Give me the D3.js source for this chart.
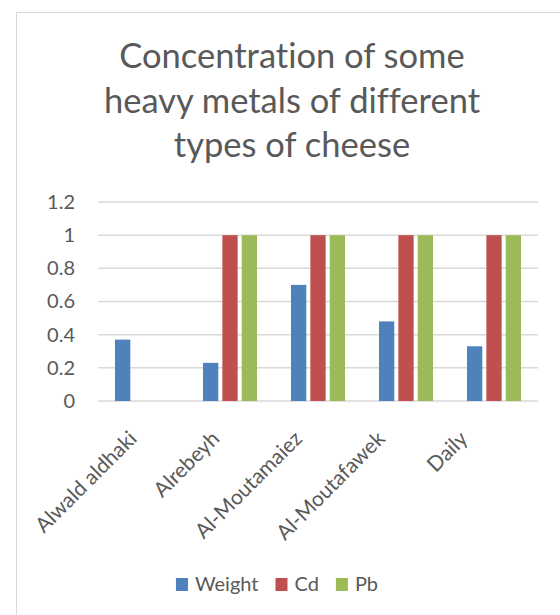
<!DOCTYPE html>
<meta charset="utf-8">
<style>
body { margin: 0; background: #fff; }
svg text { font-family: Lato, "Open Sans", sans-serif; fill: #595959; font-variant-ligatures: none; }
.grid line { stroke: #d9d9d9; stroke-width: 1.5px; }
.axis--y path, .axis--y line { display: none; }
</style>
<svg width="560" height="615"></svg>
<script src="https://d3js.org/d3.v7.min.js"></script>
<script>

// Data
var categories = ["Alwald aldhaki", "Alrebeyh", "Al-Moutamaiez", "Al-Moutafawek", "Daily"];
var series = ["Weight", "Cd", "Pb"];
var weight = [0.37, 0.23, 0.70, 0.48, 0.33];
var cd = [0, 1, 1, 1, 1];
var pb = [0, 1, 1, 1, 1];
var yTicks = [0, 0.2, 0.4, 0.6, 0.8, 1, 1.2];
var titleLines = ["Concentration of some", "heavy metals of different", "types of cheese"];
var colors = ["#4f81bd", "#c0504d", "#9bbb59"];

var values = [weight, cd, pb];

var svg = d3.select("svg");

// chart area border (runs off the right and bottom of the picture)
svg.append("rect")
    .attr("x", 16.5).attr("y", 12.5)
    .attr("width", 600).attr("height", 700)
    .attr("fill", "none")
    .attr("stroke", "#d9d9d9")
    .attr("stroke-width", 1);

// title
svg.append("text")
    .attr("text-anchor", "middle")
    .style("font-size", "34.5px")
    .selectAll("tspan")
    .data(titleLines)
    .enter().append("tspan")
      .attr("x", 292)
      .attr("y", function(d, i) { return 68 + i * 44.5; })
      .text(function(d) { return d; });

var plot = {left: 98, right: 538, top: 202, bottom: 401};

var x0 = d3.scaleBand().domain(categories).range([plot.left, plot.right]);
var x1 = d3.scaleBand().domain(series).range([17, 71]).paddingInner(0.21);
var y = d3.scaleLinear().domain([0, 1.2]).range([plot.bottom, plot.top]);
var z = d3.scaleOrdinal().domain(series).range(colors);

// gridlines
svg.append("g")
    .attr("class", "grid")
    .selectAll("line")
    .data(yTicks)
    .enter().append("line")
      .attr("x1", plot.left).attr("x2", plot.right)
      .attr("y1", function(d) { return y(d); })
      .attr("y2", function(d) { return y(d); });

// y axis labels
svg.append("g")
    .attr("class", "axis axis--y")
    .attr("transform", "translate(" + plot.left + ",0)")
    .call(d3.axisLeft(y).tickValues(yTicks).tickSize(0).tickPadding(23).tickFormat(d3.format("")))
    .selectAll("text")
      .style("font-size", "20px")
      .style("font-family", null);

// bars
var group = svg.selectAll(".group")
  .data(categories)
  .enter().append("g")
    .attr("class", "group")
    .attr("transform", function(d) { return "translate(" + x0(d) + ",0)"; });

group.selectAll("rect")
  .data(function(c, i) { return series.map(function(s, j) { return {key: s, value: values[j][i]}; }); })
  .enter().append("rect")
    .filter(function(d) { return d.value > 0; })
    .attr("x", function(d) { return x1(d.key); })
    .attr("y", function(d) { return y(d.value); })
    .attr("width", x1.bandwidth())
    .attr("height", function(d) { return y(0) - y(d.value); })
    .attr("fill", function(d) { return z(d.key); });

// rotated category labels (Excel spaces them a bit tighter than the bars)
var xl = d3.scalePoint().domain(categories).range([138, 469]);
svg.append("g")
    .selectAll("text")
    .data(categories)
    .enter().append("text")
      .attr("text-anchor", "end")
      .style("font-size", "21px")
      .attr("transform", function(d) { return "translate(" + xl(d) + ",440) rotate(-45)"; })
      .text(function(d) { return d; });

// legend
var legend = svg.append("g");
var lx = 0;
series.forEach(function(s) {
  var item = legend.append("g").attr("transform", "translate(" + lx + ",0)");
  item.append("rect")
      .attr("x", 0).attr("y", -12)
      .attr("width", 12).attr("height", 13)
      .attr("fill", z(s));
  var t = item.append("text")
      .attr("x", 19).attr("y", 1)
      .style("font-size", "20px")
      .text(s);
  lx += 19 + t.node().getComputedTextLength() + 17;
});
lx -= 17;
legend.attr("transform", "translate(" + (277 - lx / 2) + ",590)");

</script>
